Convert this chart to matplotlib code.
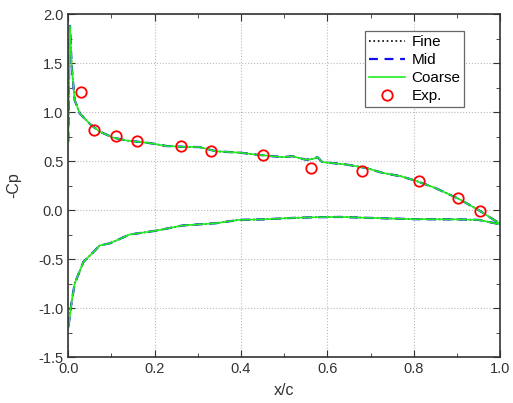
import numpy as np
import matplotlib.pyplot as plt
from matplotlib.ticker import MultipleLocator

plt.rcParams['font.family'] = ['Liberation Sans', 'DejaVu Sans']

# upper surface (-Cp)
xu = [0.0, 0.002, 0.004, 0.008, 0.015, 0.027, 0.05, 0.073, 0.104, 0.135, 0.188,
      0.227, 0.27, 0.304, 0.342, 0.40, 0.427, 0.46, 0.496, 0.519, 0.55, 0.565,
      0.577, 0.588, 0.642, 0.69, 0.727, 0.77, 0.804, 0.85, 0.904, 0.95, 1.0]
cpu = [0.70, 1.40, 1.88, 1.46, 1.12, 0.985, 0.88, 0.80, 0.74, 0.71, 0.684,
       0.654, 0.645, 0.643, 0.60, 0.585, 0.57, 0.555, 0.54, 0.55, 0.514, 0.52,
       0.54, 0.49, 0.466, 0.43, 0.38, 0.345, 0.30, 0.225, 0.115, 0.0, -0.14]
# lower surface
xl = [0.0, 0.008, 0.015, 0.035, 0.058, 0.073, 0.096, 0.142, 0.204, 0.265,
      0.342, 0.396, 0.45, 0.52, 0.573, 0.63, 0.70, 0.804, 0.90, 0.95, 1.0]
cpl = [-1.21, -0.93, -0.75, -0.53, -0.43, -0.36, -0.34, -0.25, -0.21, -0.157,
       -0.134, -0.10, -0.095, -0.08, -0.073, -0.07, -0.08, -0.093, -0.095, -0.10, -0.145]
# experiment
x_exp = [0.029, 0.06, 0.11, 0.16, 0.26, 0.331, 0.45, 0.561, 0.68, 0.813, 0.902, 0.954]
cp_exp = [1.205, 0.82, 0.753, 0.70, 0.654, 0.60, 0.565, 0.433, 0.40, 0.30, 0.126, -0.01]

fig = plt.figure(figsize=(5.13, 4.03), dpi=100)
ax = fig.add_axes([0.133, 0.114, 0.842, 0.851])

x_all = xu + xl[::-1]
cp_all = cpu + cpl[::-1]
ax.plot(x_all, cp_all, ':', color='black', lw=1.2, label='Fine')
ax.plot(x_all, cp_all, '--', color='#1010ee', lw=1.6, dashes=(4, 3), label='Mid')
ax.plot(x_all, cp_all, '-', color='#22ee22', lw=1.2, label='Coarse')
ax.plot(x_exp, cp_exp, 'o', mfc='none', mec='red', ms=7.5, mew=1.3, label='Exp.')

ax.set_xlim(0, 1.0)
ax.set_ylim(-1.5, 2.0)
ax.xaxis.set_minor_locator(MultipleLocator(0.1))
ax.yaxis.set_minor_locator(MultipleLocator(0.25))
ax.set_xticks(np.arange(0, 1.01, 0.2))
ax.set_xticklabels(['0.0', '0.2', '0.4', '0.6', '0.8', '1.0'])
ax.set_yticks(np.arange(-1.5, 2.01, 0.5))
ax.set_yticklabels(['-1.5', '-1.0', '-0.5', '0.0', '0.5', '1.0', '1.5', '2.0'])
ax.tick_params(which='both', direction='in', top=True, right=True,
               labelsize=10.5, colors='#333333', labelcolor='#333333')
ax.tick_params(which='major', length=5)
ax.tick_params(which='minor', length=3)
ax.grid(True, which='major', ls=':', color='#bbbbbb', lw=0.8)
for s in ax.spines.values():
    s.set_color('#333333')
    s.set_linewidth(1.2)

ax.set_xlabel('x/c', fontsize=11.5, color='#333333')
ax.set_ylabel('-Cp', fontsize=11.5, color='#333333')
ax.xaxis.set_label_coords(0.5, -0.076)
ax.yaxis.set_label_coords(-0.109, 0.5)

leg = ax.legend(loc='upper right', bbox_to_anchor=(0.917, 0.95), fontsize=11,
                fancybox=False, framealpha=1, edgecolor='#666666',
                handlelength=2.4, borderpad=0.25, labelspacing=0.27,
                handletextpad=0.4, borderaxespad=0)
leg.get_frame().set_linewidth(0.9)

plt.savefig('out.png')
